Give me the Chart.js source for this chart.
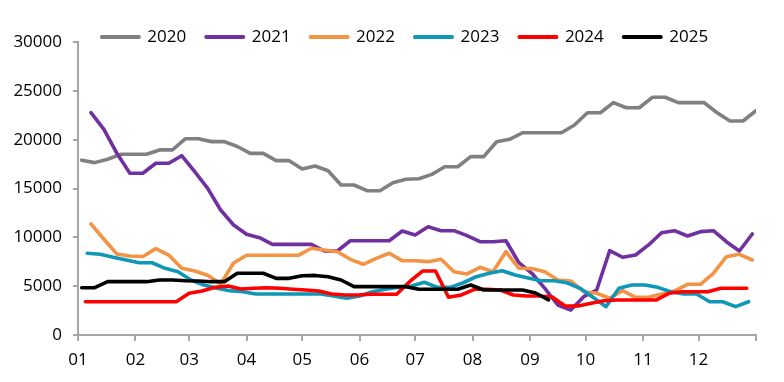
<!DOCTYPE html>
<html>
<head>
<meta charset="utf-8">
<script src="https://cdn.jsdelivr.net/npm/chart.js@4"></script>
<style>
html,body{margin:0;padding:0;background:#fff;}
#wrap{width:784px;height:382px;}
</style>
</head>
<body>
<div id="wrap"><canvas id="c" width="784" height="382"></canvas></div>
<script>
// Month tick labels and month start (day of year, leap-year calendar)
const monthLabels = ["01","02","03","04","05","06","07","08","09","10","11","12"];
const monthStarts = [0,31,60,91,121,152,182,213,244,274,305,335,366];

const seriesNames = ["2020","2021","2022","2023","2024","2025"];
const seriesColors = ["#808080","#7030A0","#F29443","#0E97B6","#FF0000","#000000"];
// day of year of the first weekly observation
const startDay = [2, 7, 7, 5, 4, 2];

const v2020 = [17900,17650,18000,18500,18500,18500,18950,18950,20100,20100,
               19800,19800,19300,18600,18600,17850,17850,17000,17300,16820,
               15360,15360,14775,14775,15590,15940,16000,16450,17230,17230,
               18260,18260,19790,20040,20710,20710,20710,20710,21500,22760,
               22760,23790,23270,23270,24340,24340,23790,23790,23790,22760,
               21910,21910,22970];
const v2021 = [22760,21060,18600,16560,16560,17580,17580,18360,16720,15020,
               12800,11260,10310,9960,9280,9280,9280,9280,8600,8600,
               9650,9650,9650,9650,10650,10240,11090,10680,10680,10170,
               9550,9550,9650,7400,6320,4780,3070,2560,3920,4610,
               8630,7960,8190,9220,10470,10680,10140,10580,10680,9550,
               8600,10340];
const v2022 = [11370,9800,8290,8090,8040,8840,8190,6830,6550,6110,
               5220,7370,8160,8160,8160,8160,8160,8880,8700,8530,
               7750,7240,7850,8370,7610,7610,7510,7750,6480,6250,
               6930,6480,8530,6830,6800,6480,5630,5530,4430,4270,
               3760,4540,3860,3860,4200,4500,5190,5190,6320,8020,
               8260,7680];
const v2023 = [8370,8260,7960,7680,7400,7400,6830,6480,5630,5120,
               4780,4540,4430,4200,4200,4200,4200,4200,4200,3990,
               3760,3990,4430,4680,4880,5020,5400,4880,4880,5350,
               5970,6320,6580,6140,5840,5560,5560,5350,4780,3860,
               2900,4780,5120,5120,4880,4430,4200,4200,3410,3410,
               2900,3410];
const v2024 = [3410,3410,3410,3410,3410,3410,3410,3410,4270,4500,
               4880,5020,4710,4780,4840,4780,4680,4600,4500,4200,
               4100,4100,4170,4170,4170,5460,6550,6550,3860,4100,
               4680,4680,4610,4100,3990,3990,3890,2970,2970,3250,
               3510,3580,3580,3580,3580,4270,4430,4430,4430,4780,
               4780,4780];
const v2025 = [4840,4840,5460,5460,5460,5460,5630,5630,5560,5530,
               5460,5460,6320,6320,6320,5800,5800,6070,6100,5970,
               5630,4950,4950,4950,4950,4950,4680,4680,4680,4680,
               5120,4610,4610,4610,4610,4300,3600];

const yTicks = [0,5000,10000,15000,20000,25000,30000];

const allValues = [v2020, v2021, v2022, v2023, v2024, v2025];
const axisColor = "#A6A6A6";

Chart.defaults.font.family = "'Open Sans', 'DejaVu Sans', sans-serif";
Chart.defaults.font.size = 17;
Chart.defaults.color = "#000000";

const datasets = allValues.map((vals, k) => ({
  label: seriesNames[k],
  data: vals.map((v, i) => ({x: startDay[k] + 7 * i, y: v})),
  borderColor: seriesColors[k],
  backgroundColor: seriesColors[k],
  borderWidth: 3.6,
  borderCapStyle: "round",
  borderJoinStyle: "round",
  pointRadius: 0,
  pointHoverRadius: 0,
  tension: 0,
  order: 5 - k
}));

const legendFix = {
  id: "legendFix",
  beforeLayout(chart) {
    const lg = chart.legend;
    if (lg && !lg._fixed) {
      const f = lg.fit;
      lg.fit = function() { f.call(this); this.height = 33.5; };
      lg._fixed = true;
    }
  },
  afterLayout(chart) {
    const lg = chart.legend;
    if (lg) { lg.left += 27; lg.right += 27; }
  }
};

new Chart(document.getElementById("c"), {
  type: "line",
  data: {datasets},
  plugins: [legendFix],
  options: {
    responsive: false,
    animation: false,
    events: [],
    layout: {padding: {left: 0, right: 28, top: 8.5, bottom: 0}},
    plugins: {
      tooltip: {enabled: false},
      legend: {
        display: true,
        position: "top",
        labels: {
          boxWidth: 37,
          boxHeight: 0,
          padding: 20,
          color: "#000000",
          font: {size: 17},
          sort: (a, b) => a.datasetIndex - b.datasetIndex,
          generateLabels(chart) {
            return Chart.defaults.plugins.legend.labels.generateLabels(chart).map(it => {
              it.lineWidth = 4;
              it.lineCap = "round";
              it.lineJoin = "round";
              return it;
            });
          }
        }
      }
    },
    scales: {
      x: {
        type: "linear",
        min: 0,
        max: 366,
        afterBuildTicks(s) { s.ticks = monthStarts.map(v => ({value: v})); },
        afterFit(s) { s.height = 47; },
        ticks: {
          autoSkip: false,
          maxRotation: 0,
          padding: 9,
          color: "#000000",
          callback(value, index) { return index < monthLabels.length ? monthLabels[index] : ""; }
        },
        grid: {drawOnChartArea: false, drawTicks: true, tickLength: 6, color: axisColor, lineWidth: 2},
        border: {display: true, color: axisColor, width: 2}
      },
      y: {
        min: 0,
        max: 30000,
        afterBuildTicks(s) { s.ticks = yTicks.map(v => ({value: v})); },
        afterFit(s) { s.width = 78; },
        ticks: {padding: 11, color: "#000000", callback: v => String(v)},
        grid: {drawOnChartArea: false, drawTicks: true, tickLength: 5, color: axisColor, lineWidth: 2},
        border: {display: true, color: axisColor, width: 2}
      }
    }
  }
});
</script>
</body>
</html>
